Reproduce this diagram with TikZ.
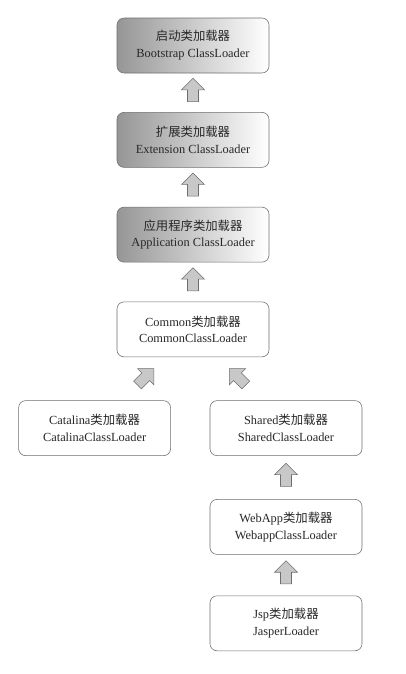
\documentclass[tikz,border=0pt]{standalone}
\usepackage{fontspec}
\setmainfont{Liberation Serif}
\newfontfamily\cjk{Noto Sans CJK SC}
\definecolor{boxline}{RGB}{110,110,110}
\definecolor{shadegray}{RGB}{150,150,150}
\definecolor{arrowfill}{RGB}{200,200,200}
\definecolor{textdark}{RGB}{40,40,40}
\usetikzlibrary{shapes,arrows,positioning,calc}

\tikzset{
  loaderbox/.style={draw=boxline, rounded corners=5pt, minimum width=3.8cm, minimum height=1.375cm,
    align=center, text=textdark, font=\fontsize{8.8}{12}\selectfont},
  shadedbox/.style={loaderbox, left color=shadegray, right color=white},
  plainbox/.style={loaderbox, fill=white},
  uparrow/.style={single arrow, draw=boxline, fill=arrowfill, inner sep=0.13cm, minimum height=0.58cm,
    single arrow head extend=0.15cm, shape border rotate=90}
}

\begin{document}
\begin{tikzpicture}
  \useasboundingbox (0,0) rectangle (10.125,-16.85);

  % parent loaders
  \node[shadedbox] (boot) at (4.825,-1.1375) {{\cjk 启动类加载器}\\Bootstrap ClassLoader};
  \node[shadedbox, below=0.97cm of boot] (ext) {{\cjk 扩展类加载器}\\Extension ClassLoader};
  \node[shadedbox, below=0.98cm of ext] (app) {{\cjk 应用程序类加载器}\\Application ClassLoader};

  % tomcat loaders
  \node[plainbox, below=0.98cm of app] (common) {Common{\cjk 类加载器}\\CommonClassLoader};
  \node[plainbox, below=1.08cm of common, xshift=-2.46cm] (catalina) {Catalina{\cjk 类加载器}\\CatalinaClassLoader};
  \node[plainbox, below=1.08cm of common, xshift=2.325cm] (shared) {Shared{\cjk 类加载器}\\SharedClassLoader};
  \node[plainbox, below=1.08cm of shared] (webapp) {WebApp{\cjk 类加载器}\\WebappClassLoader};
  \node[plainbox, below=1.02cm of webapp] (jsp) {Jsp{\cjk 类加载器}\\JasperLoader};

  % delegation arrows
  \node[uparrow] (a1) at ($(ext.north)!0.5!(boot.south)$) {};
  \node[uparrow] (a2) at ($(app.north)!0.5!(ext.south)$) {};
  \node[uparrow] (a3) at ($(common.north)!0.5!(app.south)$) {};
  \node[uparrow, rotate=-45] (a4) at ($(catalina.north)!0.5!(common.south)$) {};
  \node[uparrow, rotate=45] (a5) at ($(shared.north)!0.5!(common.south)$) {};
  \node[uparrow] (a6) at ($(webapp.north)!0.5!(shared.south)$) {};
  \node[uparrow] (a7) at ($(jsp.north)!0.5!(webapp.south)$) {};
\end{tikzpicture}
\end{document}
